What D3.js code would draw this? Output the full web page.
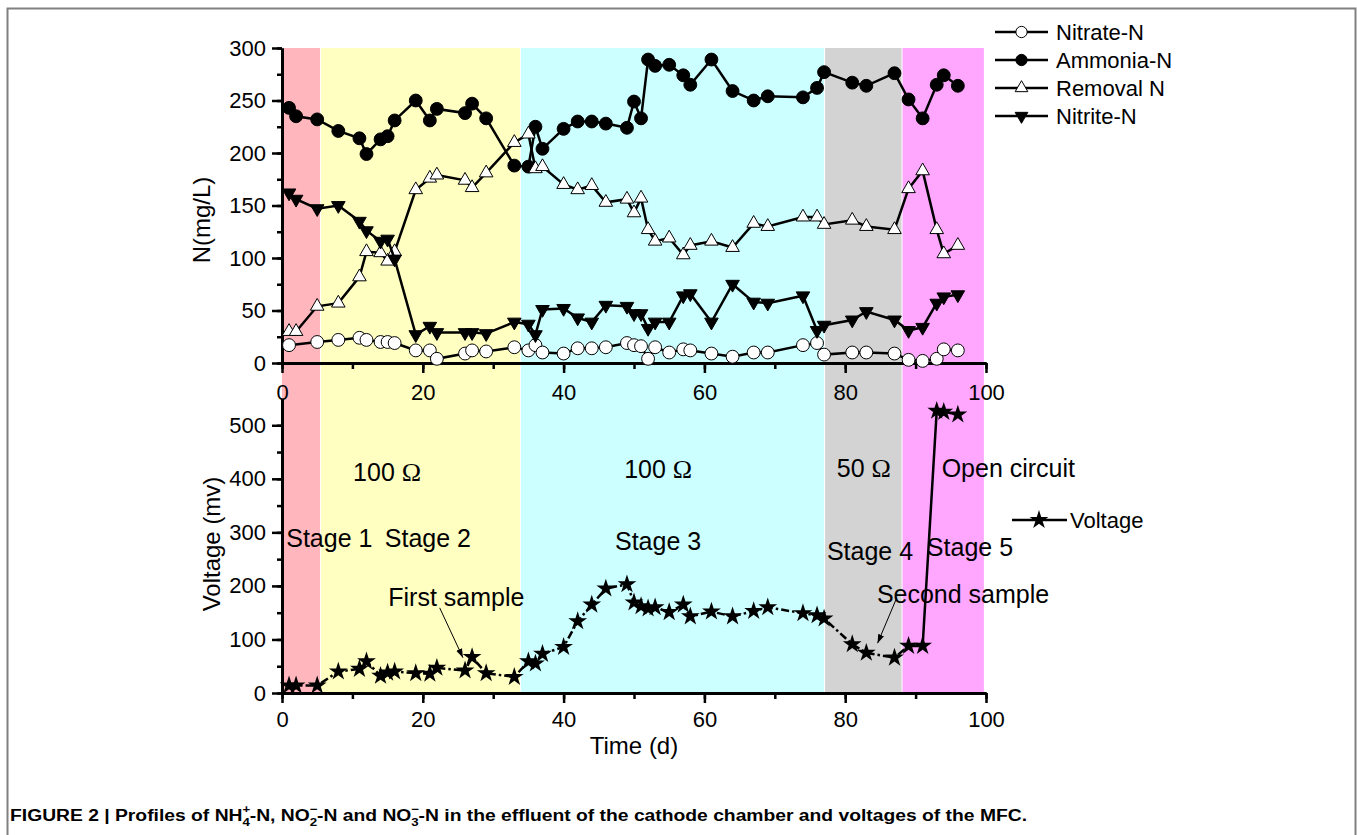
<!DOCTYPE html>
<html>
<head>
<meta charset="utf-8">
<script src="https://cdn.jsdelivr.net/npm/d3@7"></script>
<style>
  body { margin: 0; background: #fff; }
  text { font-family: Arial, "Liberation Sans", sans-serif; }
</style>
</head>
<body>
<div id="chart"></div>
<script>
// sampling days shared by every series
const days = [1, 2, 5, 8, 11, 12, 14, 15, 16, 19, 21, 22, 26, 27, 29, 33, 35, 36, 37, 40,
              42, 44, 46, 49, 50, 51, 52, 53, 55, 57, 58, 61, 64, 67, 69, 74, 76, 77, 81, 83,
              87, 89, 91, 93, 94, 96];

const nitrate = [17, null, 20, 22, 24, 22, 20, 20, 19, 12, 12, 4, 9, 12, 11, 15, 12, 17, 10, 9,
                 14, 14, 15, 19, 17, 16, 4, 15, 10, 13, 12, 9, 6, 10, 10, 17, 19, 8, 10, 10,
                 9, 3, 2, 4, 13, 12];
const ammonia = [243, 235, 232, 221, 214, 199, 213, 216, 231, 250, 231, 242, 238, 247, 233, 188, 187, 225, 204, 223,
                 230, 230, 228, 224, 249, 233, 289, 283, 284, 274, 265, 289, 259, 250, 254, 253, 262, 277, 267, 264,
                 276, 251, 233, 265, 274, 264];
const removal = [30, 30, 54, 57, 82, 106, 105, 97, 106, 165, 176, 179, 174, 167, 181, 210, 218, 185, 187, 170,
                 165, 169, 153, 156, 143, 157, 127, 116, 119, 103, 112, 116, 110, 133, 130, 139, 139, 132, 136, 130,
                 127, 166, 183, 127, 104, 112];
const nitrite = [162, 156, 147, 150, 135, 126, 116, 118, 99, 27, 35, 29, 29, 29, 28, 39, 37, 27, 51, 52,
                 43, 39, 55, 54, 47, 47, 33, 39, 39, 64, 66, 39, 75, 58, 57, 64, 31, 36, 41, 49,
                 41, 31, 34, 57, 63, 65];
const voltage = [14, 14, 14, 40, 45, 59, 32, 38, 40, 37, 36, 47, 42, 67, 37, 30, 59, 55, 73, 86,
                 134, 165, 195, 203, 169, 162, 158, 160, 151, 165, 143, 152, 143, 153, 160, 149, 145, 139, 91, 75,
                 66, 88, 88, 527, 525, 520];
// last closed-circuit day; the line after it is drawn solid
const lastClosedDay = 91;

// operating stages (day boundaries) and their shading
const stageEdges = [0, 5.4, 33.8, 77, 88, 99.7];
const stageColors = ["#ffb6bd", "#ffffc2", "#ccffff", "#d3d3d3", "#ffa6ff"];

const nLegend = ["Nitrate-N", "Ammonia-N", "Removal N", "Nitrite-N"];

// annotations placed in data coordinates (day, mV)
const notes = [
  {t: "100 ", om: true, d: 10.1, v: 396},
  {t: "Stage 1", d: 0.6, v: 273},
  {t: "Stage 2", d: 14.6, v: 273},
  {t: "First sample", d: 15.1, v: 162},
  {t: "100 ", om: true, d: 48.6, v: 401},
  {t: "Stage 3", d: 47.3, v: 267},
  {t: "50 ", om: true, d: 78.8, v: 403},
  {t: "Open circuit", d: 93.7, v: 403},
  {t: "Stage 4", d: 77.4, v: 248},
  {t: "Stage 5", d: 91.6, v: 255},
  {t: "Second sample", d: 84.5, v: 168}
];
const arrows = [
  {d0: 22.4, v0: 159, d1: 25.7, v1: 66},
  {d0: 87.3, v0: 177, d1: 84.6, v1: 93}
];

const width = 1357, height = 835;
const svg = d3.select("#chart").append("svg")
    .attr("width", width)
    .attr("height", height);

// page frame
svg.append("path")
    .attr("d", `M7.5,${height} V8.5 H1355.5 V${height}`)
    .attr("fill", "none")
    .attr("stroke", "#808080")
    .attr("stroke-width", 2);

const x = d3.scaleLinear().domain([0, 100]).range([282, 986]);
const yN = d3.scaleLinear().domain([0, 300]).range([363, 48]);
const yV = d3.scaleLinear().domain([0, 550]).range([693, 398.5]);

// stage shading spans both panels
svg.append("g").selectAll("rect")
    .data(stageColors)
    .join("rect")
    .attr("x", (c, i) => x(stageEdges[i]) + (i ? 1 : 0))
    .attr("width", (c, i) => x(stageEdges[i + 1]) - x(stageEdges[i]) - (i ? 1 : 0))
    .attr("y", yN(300))
    .attr("height", yV(0) - yN(300))
    .attr("fill", c => c);

function styleAxis(g) {
  g.selectAll(".domain").attr("stroke-width", 3);
  g.selectAll(".tick line").attr("stroke-width", 2.5);
  g.selectAll("text").attr("font-size", 22).attr("fill", "#000")
      .attr("font-family", "Arial, 'Liberation Sans', sans-serif");
}

function xAxis(y0, pad) {
  const minor = svg.append("g").attr("transform", `translate(0,${y0})`)
      .call(d3.axisBottom(x).tickValues(d3.range(0, 101, 10)).tickSize(6).tickSizeOuter(0).tickFormat(""));
  styleAxis(minor);
  const major = svg.append("g").attr("transform", `translate(0,${y0})`)
      .call(d3.axisBottom(x).tickValues(d3.range(0, 101, 20)).tickSize(10).tickSizeOuter(0).tickPadding(pad));
  styleAxis(major);
}

function yAxis(scale, minorStep, majorStep, top) {
  const minor = svg.append("g").attr("transform", `translate(${x(0)},0)`)
      .call(d3.axisLeft(scale).tickValues(d3.range(0, top + 1, minorStep)).tickSize(5).tickSizeOuter(0).tickFormat(""));
  styleAxis(minor);
  const major = svg.append("g").attr("transform", `translate(${x(0)},0)`)
      .call(d3.axisLeft(scale).tickValues(d3.range(0, top + 1, majorStep)).tickSize(10).tickSizeOuter(0).tickPadding(6));
  styleAxis(major);
}

xAxis(yN(0), 11);
xAxis(yV(0), 8);
yAxis(yN, 25, 50, 300);
yAxis(yV, 50, 100, 500);

// axis titles
svg.append("text")
    .attr("transform", `translate(210,220) rotate(-90)`)
    .attr("text-anchor", "middle")
    .attr("font-size", 24)
    .text("N(mg/L)");
svg.append("text")
    .attr("transform", `translate(220,544) rotate(-90)`)
    .attr("text-anchor", "middle")
    .attr("font-size", 24)
    .text("Voltage (mv)");
svg.append("text")
    .attr("x", 634)
    .attr("y", 754)
    .attr("text-anchor", "middle")
    .attr("font-size", 24)
    .text("Time (d)");

// nitrogen series
const symCircle = d3.symbol().type(d3.symbolCircle).size(130);
const symTri = d3.symbol().type(d3.symbolTriangle).size(80);
const symStar = d3.symbol().type(d3.symbolStar).size(110);

const series = [
  {name: "Nitrate-N", values: nitrate, sym: symCircle, fill: "#fff", rot: 0},
  {name: "Ammonia-N", values: ammonia, sym: symCircle, fill: "#000", rot: 0},
  {name: "Removal N", values: removal, sym: symTri, fill: "#fff", rot: 0},
  {name: "Nitrite-N", values: nitrite, sym: symTri, fill: "#000", rot: 180}
];

const lineN = d3.line()
    .x(d => x(d.day))
    .y(d => yN(d.val));

series.forEach(s => {
  const pts = days.map((d, i) => ({day: d, val: s.values[i]})).filter(p => p.val !== null);
  const g = svg.append("g");
  g.append("path")
      .datum(pts)
      .attr("d", lineN)
      .attr("fill", "none")
      .attr("stroke", "#000")
      .attr("stroke-width", 2.5);
  g.selectAll("path.pt")
      .data(pts)
      .join("path")
      .attr("class", "pt")
      .attr("d", s.sym)
      .attr("transform", p => `translate(${x(p.day)},${yN(p.val)}) rotate(${s.rot})`)
      .attr("fill", s.fill)
      .attr("stroke", "#000")
      .attr("stroke-width", 1);
});

// voltage series: dash-dot while a resistor is connected, solid for open circuit
const vPts = days.map((d, i) => ({day: d, val: voltage[i]}));
const lineV = d3.line().x(d => x(d.day)).y(d => yV(d.val));
svg.append("path")
    .datum(vPts.filter(p => p.day <= lastClosedDay))
    .attr("d", lineV)
    .attr("fill", "none")
    .attr("stroke", "#000")
    .attr("stroke-width", 2.5)
    .attr("stroke-dasharray", "8,3,2.5,3");
svg.append("path")
    .datum(vPts.filter(p => p.day >= lastClosedDay))
    .attr("d", lineV)
    .attr("fill", "none")
    .attr("stroke", "#000")
    .attr("stroke-width", 2.5);
svg.append("g").selectAll("path")
    .data(vPts)
    .join("path")
    .attr("d", symStar)
    .attr("transform", p => `translate(${x(p.day)},${yV(p.val)})`)
    .attr("fill", "#000");

// legend (nitrogen)
const leg = svg.append("g");
series.forEach((s, i) => {
  const ly = 32 + i * 28;
  leg.append("line")
      .attr("x1", 995).attr("x2", 1048)
      .attr("y1", ly).attr("y2", ly)
      .attr("stroke", "#000").attr("stroke-width", 2.5);
  leg.append("path")
      .attr("d", s.sym.size(s.sym === symCircle ? 100 : 70)())
      .attr("transform", `translate(1021.5,${ly}) rotate(${s.rot})`)
      .attr("fill", s.fill)
      .attr("stroke", "#000")
      .attr("stroke-width", 1);
  leg.append("text")
      .attr("x", 1056)
      .attr("y", ly)
      .attr("dy", "0.36em")
      .attr("font-size", 22)
      .text(nLegend[i]);
});
symCircle.size(130);
symTri.size(80);

// legend (voltage)
leg.append("line")
    .attr("x1", 1012).attr("x2", 1067)
    .attr("y1", 520).attr("y2", 520)
    .attr("stroke", "#000").attr("stroke-width", 2.5);
leg.append("path")
    .attr("d", symStar())
    .attr("transform", "translate(1039,520)")
    .attr("fill", "#000");
leg.append("text")
    .attr("x", 1070)
    .attr("y", 520)
    .attr("dy", "0.36em")
    .attr("font-size", 22)
    .text("Voltage");

// stage labels and sample notes
notes.forEach(n => {
  const t = svg.append("text")
      .attr("x", x(n.d))
      .attr("y", yV(n.v))
      .attr("font-size", 25)
      .text(n.t);
  if (n.om) {
    t.append("tspan")
        .attr("font-family", "'Liberation Serif', 'Times New Roman', serif")
        .attr("font-size", 26)
        .text("\u03A9");
  }
});

svg.append("defs").append("marker")
    .attr("id", "arrow")
    .attr("viewBox", "0 0 10 10")
    .attr("refX", 10).attr("refY", 5)
    .attr("markerWidth", 9).attr("markerHeight", 9)
    .attr("markerUnits", "userSpaceOnUse")
    .attr("orient", "auto")
    .append("path")
    .attr("d", "M0,1.5 L10,5 L0,8.5 Z")
    .attr("fill", "#000");

svg.append("g").selectAll("line")
    .data(arrows)
    .join("line")
    .attr("x1", a => x(a.d0)).attr("y1", a => yV(a.v0))
    .attr("x2", a => x(a.d1)).attr("y2", a => yV(a.v1))
    .attr("stroke", "#000")
    .attr("stroke-width", 1)
    .attr("marker-end", "url(#arrow)");

// figure caption
const cap = svg.append("text")
    .attr("x", 10)
    .attr("y", 821)
    .attr("font-size", 16)
    .attr("font-weight", "bold")
    .attr("textLength", 1017)
    .attr("lengthAdjust", "spacingAndGlyphs")
    .style("font-family", "'Liberation Sans', Arial, sans-serif");
function stack(sup, sub) {
  cap.append("tspan").attr("dy", -8).attr("font-size", 11).text(sup);
  cap.append("tspan").attr("dx", -6.5).attr("dy", 13).attr("font-size", 11).text(sub);
}
cap.append("tspan").text("FIGURE 2 | Profiles of NH");
stack("+", "4");
cap.append("tspan").attr("dy", -5).text("-N, NO");
stack("\u2212", "2");
cap.append("tspan").attr("dy", -5).text("-N and NO");
stack("\u2212", "3");
cap.append("tspan").attr("dy", -5).text("-N in the effluent of the cathode chamber and voltages of the MFC.");
</script>
</body>
</html>
